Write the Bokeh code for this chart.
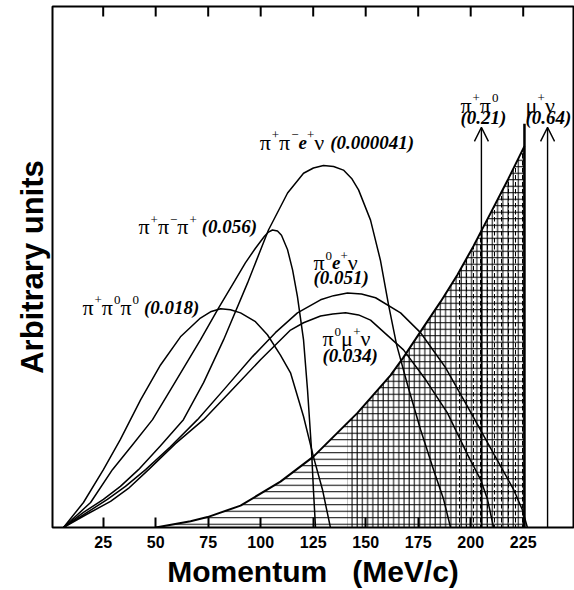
import numpy as np
from bokeh.plotting import figure
from bokeh.models import Range1d, FixedTicker, Arrow, OpenHead, ColumnDataSource
from bokeh.core.properties import value
from bokeh.embed import file_html
from bokeh.resources import INLINE

# ---- momentum spectra of charged-kaon decays (MeV/c, arbitrary units) ----
pi_pi0_pi0_x = [6.1, 15.6, 25.1, 33.2, 42.8, 52.3, 61.8, 71.3, 76.1, 80.9, 85.6, 90.4, 97.5,
                103.2, 109.4, 114.2, 120.4, 125.1, 129.4, 133.2]
pi_pi0_pi0_y = [0, 4.8, 11.1, 16.9, 24.5, 31.2, 36.6, 40.2, 41.4, 42.0, 41.8, 41.2, 39.5,
                37.0, 33.1, 29.7, 21.3, 13.6, 7.3, 0]

pi_pim_pi_x = [6.1, 19.0, 29.4, 39.0, 48.5, 59.4, 71.3, 79.9, 87.0, 92.7, 97.5, 101.8,
               103.7, 105.6, 108.0, 109.9, 112.8, 115.2, 117.5, 120.4, 122.3, 124.2, 125.1, 126.1]
pi_pim_pi_y = [0, 4.8, 11.1, 15.9, 20.7, 28.0, 36.0, 42.1, 46.9, 50.8, 53.6, 55.9,
               56.7, 57.1, 56.9, 56.1, 53.3, 49.4, 44.3, 36.0, 26.4, 14.9, 7.3, 0]

ke4_x = [6.1, 15.6, 25.1, 33.2, 41.8, 52.3, 63.2, 72.8, 82.3, 93.7, 103.7, 112.8, 120.4,
         125.1, 129.9, 134.7, 139.4, 143.3, 146.6, 152.3, 157.0, 160.9, 164.7, 169.9, 176.1,
         182.3, 187.1, 190.4]
ke4_y = [0, 2.9, 5.4, 7.9, 11.1, 15.7, 20.7, 27.8, 36.0, 46.9, 57.1, 64.2, 68.0,
         69.0, 69.5, 69.3, 68.6, 67.0, 64.8, 59.0, 51.3, 42.7, 35.1, 27.4, 18.8,
         11.1, 5.4, 0]

ke3_x = [6.1, 16.6, 27.0, 35.6, 45.2, 57.0, 69.9, 83.2, 96.1, 107.0, 117.5, 128.5, 134.7,
         141.3, 148.0, 154.7, 166.6, 176.1, 188.0, 198.5, 209.4, 220.4, 224.6, 227.0]
ke3_y = [0, 2.7, 5.4, 7.9, 11.1, 15.5, 20.7, 26.8, 32.8, 37.4, 41.2, 43.7, 44.5,
         45.0, 44.8, 44.1, 41.2, 37.4, 30.7, 23.2, 15.3, 7.3, 3.4, 0]

kmu3_x = [6.1, 17.0, 28.5, 37.0, 46.6, 59.4, 72.8, 85.6, 99.9, 114.2, 120.4, 128.5, 134.3,
          140.4, 146.6, 152.3, 168.0, 178.5, 188.9, 198.5, 204.7, 208.0, 210.9]
kmu3_y = [0, 2.5, 5.0, 7.5, 11.1, 16.1, 20.7, 26.1, 32.2, 37.9, 39.3, 40.6, 41.0,
          41.2, 40.8, 39.8, 34.1, 28.4, 22.0, 14.0, 9.2, 5.4, 0]

# hatched spectrum rising to its endpoint
shade_x = [50, 66.6, 74.7, 90.4, 109.4, 125.1, 146.1, 161.8, 167.9, 176.1, 185.6, 193.7,
           201.3, 209.4, 218.0, 225.6]
shade_y = [0, 1.2, 2.0, 4.2, 8.8, 13.6, 22.0, 29.2, 32.6, 37.6, 43.3, 48.5,
           54.0, 60.3, 67.0, 73.2]
shade_top = 77.5
cross_start = 141.3      # start of the cross-hatched part
dash_start = 193.7       # start of the extra vertical dashes

# two-body lines
line_x = [205.1, 236.6]
line_top = 76.8

tick_vals = [25, 50, 75, 100, 125, 150, 175, 200, 225]
Y_MIN, Y_MAX = 0, 100

# ---- figure ----
p = figure(width=574, height=590, x_range=Range1d(0.86, 248.95), y_range=Range1d(Y_MIN, Y_MAX),
           output_backend="svg", toolbar_location=None,
           min_border_left=52, min_border_right=1, min_border_top=6, min_border_bottom=62)
p.grid.visible = False
p.background_fill_color = "white"
p.border_fill_color = "white"
p.outline_line_color = "black"
p.outline_line_width = 2

xa = p.xaxis[0]
xa.ticker = FixedTicker(ticks=tick_vals)
xa.major_tick_in = 10
xa.major_tick_out = 0
xa.major_tick_line_width = 2
xa.minor_tick_line_color = None
xa.axis_line_color = None
xa.major_label_text_font = "Liberation Sans"
xa.major_label_text_font_style = "bold"
xa.major_label_text_font_size = "16px"
xa.major_label_text_color = "black"
xa.major_label_standoff = 8
xa.axis_label = "Momentum\u00a0\u00a0\u00a0(MeV/c)"
xa.axis_label_text_font = "Liberation Sans"
xa.axis_label_text_font_style = "bold"
xa.axis_label_text_font_size = "30px"
xa.axis_label_text_color = "black"
xa.axis_label_standoff = 4

ya = p.yaxis[0]
ya.ticker = FixedTicker(ticks=[])
ya.axis_line_color = None
ya.major_tick_line_color = None
ya.minor_tick_line_color = None
ya.axis_label = "Arbitrary units"
ya.axis_label_text_font = "Liberation Sans"
ya.axis_label_text_font_style = "bold"
ya.axis_label_text_font_size = "31px"
ya.axis_label_text_color = "black"
ya.axis_label_standoff = 3

# inward ticks along the top edge (half of each dash is clipped by the frame)
p.scatter(x=tick_vals, y=[Y_MAX] * len(tick_vals), marker="dash", size=20, angle=np.pi / 2,
          line_color="black", line_width=2)

# ---- hatched area ----
sx = np.array(shade_x)
sy = np.array(shade_y)
p.varea(x=sx, y1=0, y2=sy, fill_color=None, hatch_pattern="-", hatch_scale=6.5,
        hatch_weight=1, hatch_color="black")

def sub_region(x0):
    keep = sx > x0
    return (np.concatenate([[x0], sx[keep]]),
            np.concatenate([[np.interp(x0, sx, sy)], sy[keep]]))

cx, cy = sub_region(cross_start)
p.varea(x=cx, y1=0, y2=cy, fill_color=None, hatch_pattern="|", hatch_scale=5.2,
        hatch_weight=1, hatch_color="black")
dx, dy = sub_region(dash_start)
p.varea(x=dx, y1=0, y2=dy, fill_color=None, hatch_pattern=":", hatch_scale=7,
        hatch_weight=1, hatch_color="black")

p.line(sx, sy, line_color="black", line_width=2)
p.segment(x0=sx[-1], y0=0, x1=sx[-1], y1=shade_top, line_color="black", line_width=2.5)

# ---- spectra ----
for xs, ys in [(pi_pi0_pi0_x, pi_pi0_pi0_y), (pi_pim_pi_x, pi_pim_pi_y), (ke4_x, ke4_y),
               (ke3_x, ke3_y), (kmu3_x, kmu3_y)]:
    p.line(xs, ys, line_color="black", line_width=1.5, line_join="round")

for lx in line_x:
    p.add_layout(Arrow(end=OpenHead(size=14, line_width=1.4, line_color="black"),
                       x_start=lx, y_start=0, x_end=lx, y_end=line_top,
                       line_color="black", line_width=1.4))

# ---- decay-mode labels with superscripts ----
# kinds: "g" greek letter, "s" superscript, "b" bold-italic (numbers and e)
FONTS = {"g": ("Liberation Serif", 22, "normal"),
         "s": ("Liberation Serif", 13, "normal"),
         "b": ("Liberation Serif", 19, "bold italic")}
WIDTHS = {"g": {"π": 0.55, "ν": 0.5, "μ": 0.55},
          "s": {"+": 0.564, "−": 0.564, "0": 0.5},
          "b": {"(": 0.333, ")": 0.333, ".": 0.25, "e": 0.444}}
SPACE = 5
RAISE = -7

def text_width(txt, kind):
    return sum(WIDTHS[kind].get(c, 0.5) for c in txt) * FONTS[kind][1]

rows = {k: dict(x=[], y=[], text=[], dx=[], dy=[]) for k in FONTS}

def put(x, y, parts):
    off = 0.0
    for txt, kind in parts:
        if txt == " ":
            off += SPACE
            continue
        r = rows[kind]
        r["x"].append(x); r["y"].append(y); r["text"].append(txt)
        r["dx"].append(off); r["dy"].append(RAISE if kind == "s" else 0)
        off += text_width(txt, kind)

G, S, B = "g", "s", "b"
put(15.1, 42.3, [("π", G), ("+", S), ("π", G), ("0", S), ("π", G), ("0", S), (" ", G), ("(0.018)", B)])
put(41.8, 57.7, [("π", G), ("+", S), ("π", G), ("−", S), ("π", G), ("+", S), (" ", G), ("(0.056)", B)])
put(99.5, 73.9, [("π", G), ("+", S), ("π", G), ("−", S), ("e", B), ("+", S), ("ν", G), (" ", G), ("(0.000041)", B)])
put(125.1, 50.8, [("π", G), ("0", S), ("e", B), ("+", S), ("ν", G)])
put(125.1, 47.9, [("(0.051)", B)])
put(129.4, 36.2, [("π", G), ("0", S), ("μ", G), ("+", S), ("ν", G)])
put(129.4, 33.1, [("(0.034)", B)])
put(195.1, 81.0, [("π", G), ("+", S), ("π", G), ("0", S)])
put(195.1, 78.7, [("(0.21)", B)])
put(226.1, 81.0, [("μ", G), ("+", S), ("ν", G)])
put(226.1, 78.7, [("(0.64)", B)])

for kind, data in rows.items():
    font, size, style = FONTS[kind]
    p.text(x="x", y="y", text="text", x_offset="dx", y_offset="dy",
           source=ColumnDataSource(data), text_font=value(font),
           text_font_size=f"{size}px", text_font_style=style,
           text_baseline="alphabetic", text_align="left", text_color="black")

open("out.html", "w").write(file_html(p, INLINE))
